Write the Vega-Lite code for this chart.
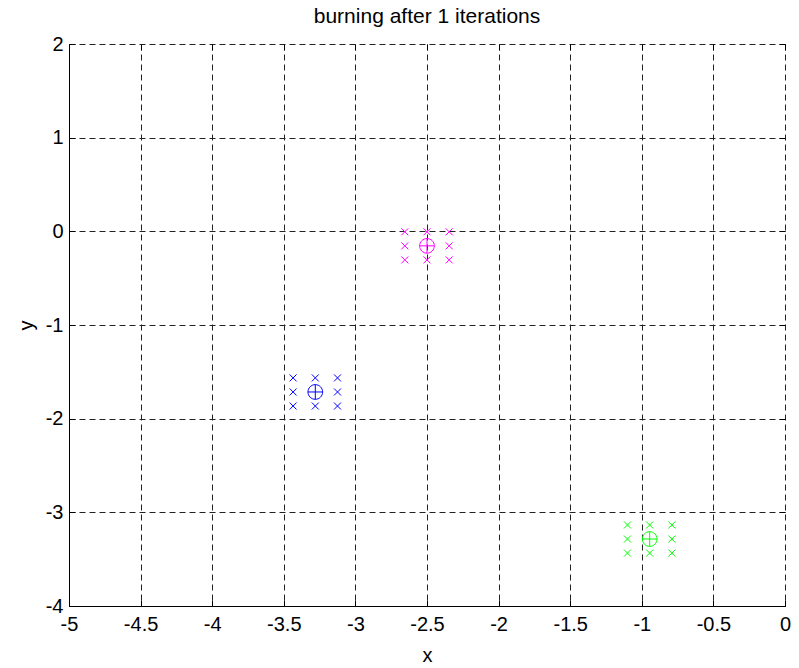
{
  "$schema": "https://vega.github.io/schema/vega-lite/v6.json",
  "autosize": "none",
  "width": 716,
  "height": 562,
  "padding": {"left": 69, "top": 44, "right": 14, "bottom": 62},
  "background": "white",
  "title": {"text": "burning after 1 iterations", "font": "Liberation Sans", "fontSize": 21, "fontWeight": "normal", "color": "black", "anchor": "middle", "offset": 16, "baseline": "bottom", "dy": 30},
  "config": {
    "view": {"stroke": null},
    "axis": {"labelFont": "Liberation Sans", "titleFont": "Liberation Sans", "labelColor": "black", "titleColor": "black", "titleFontWeight": "normal"}
  },
  "data": {"values": [
    {"x": -3.435, "y": -1.565, "cluster": "c1", "kind": "member"},
    {"x": -3.28, "y": -1.565, "cluster": "c1", "kind": "member"},
    {"x": -3.125, "y": -1.565, "cluster": "c1", "kind": "member"},
    {"x": -3.435, "y": -1.715, "cluster": "c1", "kind": "member"},
    {"x": -3.125, "y": -1.715, "cluster": "c1", "kind": "member"},
    {"x": -3.435, "y": -1.865, "cluster": "c1", "kind": "member"},
    {"x": -3.28, "y": -1.865, "cluster": "c1", "kind": "member"},
    {"x": -3.125, "y": -1.865, "cluster": "c1", "kind": "member"},
    {"x": -3.28, "y": -1.715, "cluster": "c1", "kind": "centroid"},
    {"x": -2.655, "y": -0.005, "cluster": "c2", "kind": "member"},
    {"x": -2.5, "y": -0.005, "cluster": "c2", "kind": "member"},
    {"x": -2.345, "y": -0.005, "cluster": "c2", "kind": "member"},
    {"x": -2.655, "y": -0.155, "cluster": "c2", "kind": "member"},
    {"x": -2.345, "y": -0.155, "cluster": "c2", "kind": "member"},
    {"x": -2.655, "y": -0.305, "cluster": "c2", "kind": "member"},
    {"x": -2.5, "y": -0.305, "cluster": "c2", "kind": "member"},
    {"x": -2.345, "y": -0.305, "cluster": "c2", "kind": "member"},
    {"x": -2.5, "y": -0.155, "cluster": "c2", "kind": "centroid"},
    {"x": -1.1, "y": -3.135, "cluster": "c3", "kind": "member"},
    {"x": -0.945, "y": -3.135, "cluster": "c3", "kind": "member"},
    {"x": -0.79, "y": -3.135, "cluster": "c3", "kind": "member"},
    {"x": -1.1, "y": -3.285, "cluster": "c3", "kind": "member"},
    {"x": -0.79, "y": -3.285, "cluster": "c3", "kind": "member"},
    {"x": -1.1, "y": -3.435, "cluster": "c3", "kind": "member"},
    {"x": -0.945, "y": -3.435, "cluster": "c3", "kind": "member"},
    {"x": -0.79, "y": -3.435, "cluster": "c3", "kind": "member"},
    {"x": -0.945, "y": -3.285, "cluster": "c3", "kind": "centroid"}
  ]},
  "layer": [
    {
      "mark": {"type": "point", "filled": false, "strokeWidth": 1, "opacity": 1},
      "encoding": {
        "x": {"field": "x", "type": "quantitative", "scale": {"domain": [-5, 0], "nice": false, "zero": false},
          "axis": {"orient": "bottom", "title": "x", "titleFontSize": 20, "titlePadding": 11, "values": [-5, -4.5, -4, -3.5, -3, -2.5, -2, -1.5, -1, -0.5, 0], "labelExpr": "'' + datum.value", "labelFontSize": 20, "labelPadding": 14, "tickSize": -6, "tickColor": "black", "domainColor": "black", "grid": true, "gridDash": [6, 4], "gridColor": "#222", "gridOpacity": 1, "labelFlush": false, "labelOverlap": false}},
        "y": {"field": "y", "type": "quantitative", "scale": {"domain": [-4, 2], "nice": false, "zero": false},
          "axis": {"orient": "left", "title": "y", "titleFontSize": 20, "titlePadding": 9, "values": [-4, -3, -2, -1, 0, 1, 2], "labelExpr": "'' + datum.value", "labelFontSize": 20, "labelPadding": 12, "tickSize": -6, "tickColor": "black", "domainColor": "black", "grid": true, "gridDash": [6, 4], "gridColor": "#222", "gridOpacity": 1, "labelFlush": false, "labelOverlap": false}},
        "color": {"field": "cluster", "type": "nominal", "scale": {"domain": ["c1", "c2", "c3"], "range": ["#0000ff", "#ff00ff", "#00ff00"]}, "legend": null},
        "shape": {"field": "kind", "type": "nominal", "scale": {"domain": ["member", "centroid"], "range": ["M-1,-1L1,1M1,-1L-1,1", "M-1,0A1,1 0 1,0 1,0A1,1 0 1,0 -1,0M-1,0L1,0M0,-1L0,1"]}, "legend": null},
        "size": {"field": "kind", "type": "nominal", "scale": {"domain": ["member", "centroid"], "range": [49, 216]}, "legend": null}
      }
    },
    {
      "mark": {"type": "point", "opacity": 0},
      "encoding": {
        "x": {"field": "x", "type": "quantitative", "axis": {"orient": "top", "title": null, "labels": false, "values": [-5, -4.5, -4, -3.5, -3, -2.5, -2, -1.5, -1, -0.5, 0], "tickSize": -6, "tickColor": "black", "domain": false, "grid": false}},
        "y": {"field": "y", "type": "quantitative", "axis": {"orient": "right", "title": null, "labels": false, "values": [-4, -3, -2, -1, 0, 1, 2], "tickSize": -6, "tickColor": "black", "domain": false, "grid": false}}
      }
    }
  ],
  "resolve": {"axis": {"x": "independent", "y": "independent"}}
}
